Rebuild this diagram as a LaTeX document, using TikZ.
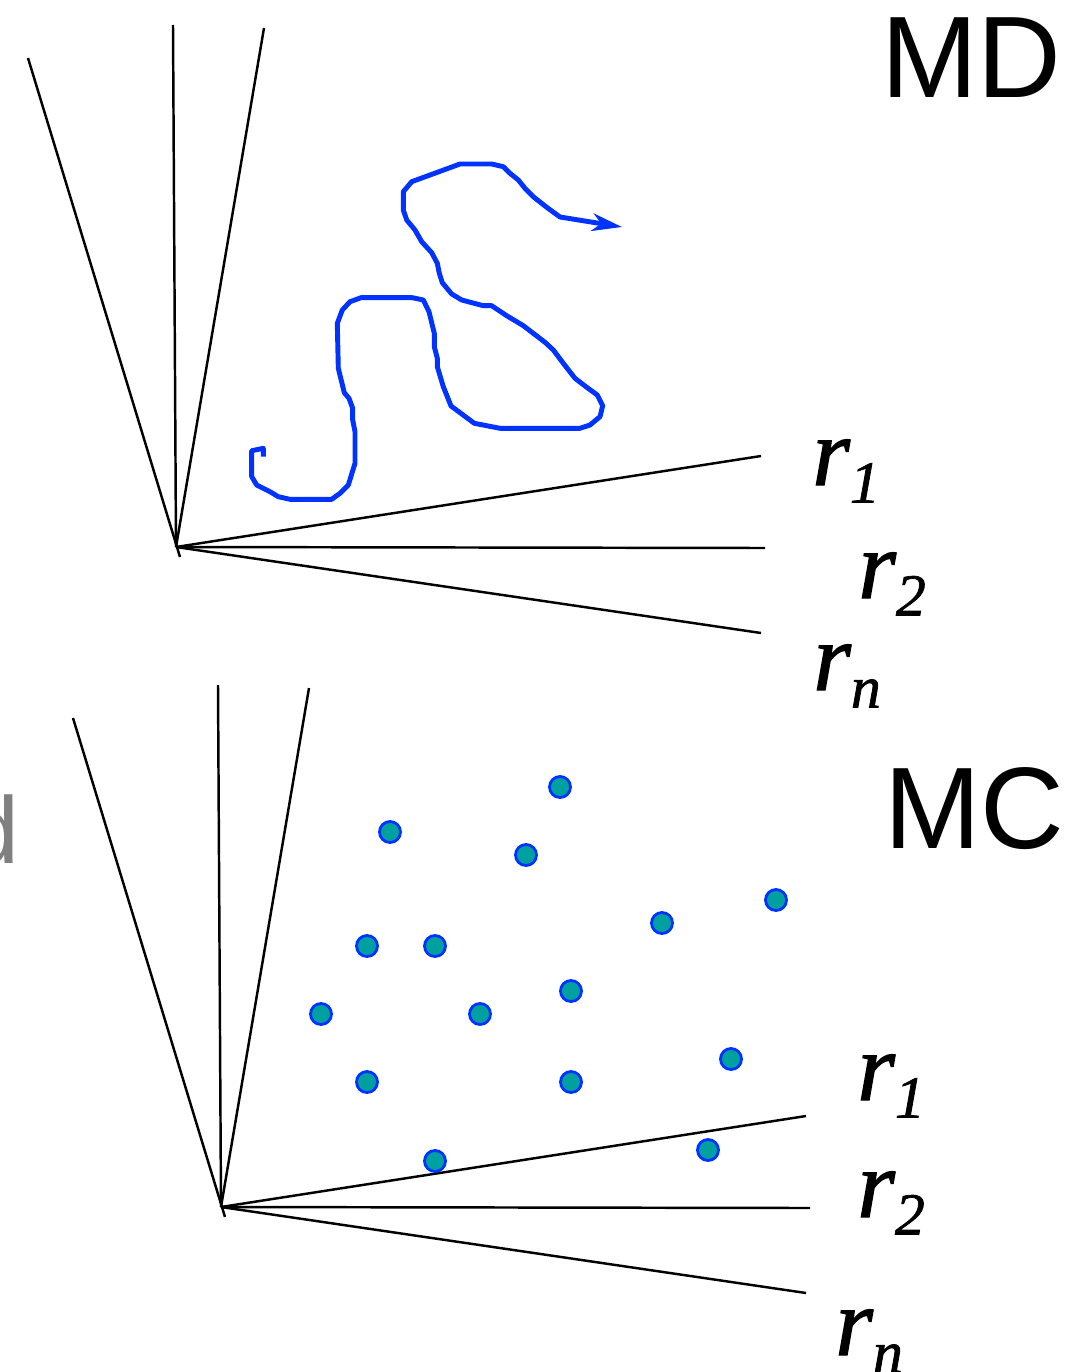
\documentclass[tikz,border=0pt]{standalone}
\usepackage{fontspec}
\setmainfont{Liberation Serif}
\newfontfamily\rfont{Liberation Serif}[ItalicFeatures={FakeBold=1.2}]
\newfontfamily\labsans{Liberation Sans}
\usetikzlibrary{arrows.meta}
\definecolor{pathblue}{RGB}{0,51,255}
\definecolor{dotfill}{RGB}{0,160,160}
\definecolor{graytext}{RGB}{128,128,128}
\newcommand{\rlab}[1]{{\rfont\itshape\fontsize{55}{55}\selectfont r}\raisebox{-10pt}{\rfont\itshape\fontsize{34}{34}\selectfont #1}}
\tikzset{
  axisline/.style={line width=1.4pt, black},
  traj/.style={pathblue, line width=2.8pt, line join=round},
  sample/.style={circle, fill=dotfill, draw=pathblue, line width=1.6pt, minimum size=0.42cm, inner sep=0pt},
  rlabel/.style={anchor=base west, inner sep=0pt},
  titletext/.style={anchor=base west, inner sep=0pt, font=\labsans\fontsize{66}{66}\selectfont}
}
\begin{document}
\begin{tikzpicture}[x=0.02cm,y=-0.02cm]
\useasboundingbox (0,0) rectangle (1076,1372);
\clip (0,0) rectangle (1076,1372);

% ---------- top (MD) ----------
\coordinate (O) at (176,547);
\coordinate (Otail) at (180,557);
\coordinate (La) at (28,58);
\coordinate (Lb) at (173,25);
\coordinate (Lc) at (264,28);
\coordinate (Ra) at (761,456);
\coordinate (Rb) at (765,548);
\coordinate (Rc) at (761,633);
\draw[axisline] (La) -- (Otail);
\draw[axisline] (Lb) -- (O);
\draw[axisline] (Lc) -- (O);
\draw[axisline] (O) -- (Ra);
\draw[axisline] (O) -- (Rb);
\draw[axisline] (O) -- (Rc);

\node[titletext] (md) at (881,97) {MD};
\node[rlabel] (t1) at (812,485) {\rlab{1}};
\node[rlabel] (t2) at (858,598) {\rlab{2}};
\node[rlabel] (tn) at (813,690) {\rlab{n}};

\coordinate (trajend) at (622,227);
\draw[traj, -{Stealth[length=17pt,width=10pt,inset=5pt]}]
  (263.3,456.7) -- (263.3,448.3) -- (251.7,450.7) -- (251.7,476.7) -- (256.7,485)
  -- (270,491.7) -- (278.3,496.7) -- (290,499.3) -- (331.7,499.3) -- (340,493.3)
  -- (348.3,485) -- (355,463.3) -- (355,431.7) -- (352.7,420) -- (352.7,408.3)
  -- (349,398.3) -- (344.3,392.7) -- (338.3,368.3) -- (337.3,323.3) -- (342.3,310)
  -- (350,301.7) -- (361,297.7) -- (412.3,297.7) -- (423.3,300) -- (429,311.7)
  -- (434.3,333.3) -- (434.3,346.7) -- (437.3,358.3) -- (437.3,366.7) -- (443.3,386.7)
  -- (451,406) -- (474.3,423.3) -- (500,428.3) -- (580,428.3) -- (590,425)
  -- (600,416.7) -- (602.7,405.7) -- (597.3,395) -- (586.7,387.3) -- (575,378.3)
  -- (563.3,363.3) -- (553.3,350) -- (545,342.3) -- (523.3,325.7) -- (506.7,315.7)
  -- (491.7,305.7) -- (483.3,305.7) -- (461.7,300) -- (451.7,294) -- (442.3,282.7)
  -- (439.3,273.3) -- (437.3,263.3) -- (431.7,252.7) -- (421.7,241.7) -- (415,230)
  -- (406.7,220) -- (403.3,210) -- (403.3,191.7) -- (411.7,181.7) -- (460,164)
  -- (491.7,164) -- (503.3,166.7) -- (510,173.3) -- (518.3,180) -- (525,188.3)
  -- (533.3,196.7) -- (546.7,207.3) -- (560,217) -- (trajend);

% ---------- bottom (MC) ----------
\coordinate (P) at (221,1207);
\coordinate (Ptail) at (225,1217);
\coordinate (Ma) at (73,718);
\coordinate (Mb) at (218,685);
\coordinate (Mc) at (309,688);
\coordinate (Sa) at (806,1116);
\coordinate (Sb) at (810,1208);
\coordinate (Sc) at (806,1293);
\draw[axisline] (Ma) -- (Ptail);
\draw[axisline] (Mb) -- (P);
\draw[axisline] (Mc) -- (P);
\draw[axisline] (P) -- (Sa);
\draw[axisline] (P) -- (Sb);
\draw[axisline] (P) -- (Sc);

\node[titletext] (mc) at (884,848) {MC};
\node[anchor=base east, inner sep=0pt, text=graytext, font=\labsans\fontsize{54}{54}\selectfont] (dfrag) at (20,863) {d};
\node[rlabel] (b1) at (857,1100) {\rlab{1}};
\node[rlabel] (b2) at (857,1217) {\rlab{2}};
\node[rlabel] (bn) at (835,1355) {\rlab{n}};

\node[sample] (d1) at (560,787) {};
\node[sample] (d2) at (390,832) {};
\node[sample] (d3) at (526,855) {};
\node[sample] (d4) at (662,923) {};
\node[sample] (d5) at (776,900) {};
\node[sample] (d6) at (367,946) {};
\node[sample] (d7) at (435,946) {};
\node[sample] (d8) at (571,991) {};
\node[sample] (d9) at (321,1014) {};
\node[sample] (d10) at (480,1014) {};
\node[sample] (d11) at (731,1059) {};
\node[sample] (d12) at (367,1082) {};
\node[sample] (d13) at (571,1082) {};
\node[sample] (d14) at (708,1150) {};
\node[sample] (d15) at (435,1161) {};
\end{tikzpicture}
\end{document}
